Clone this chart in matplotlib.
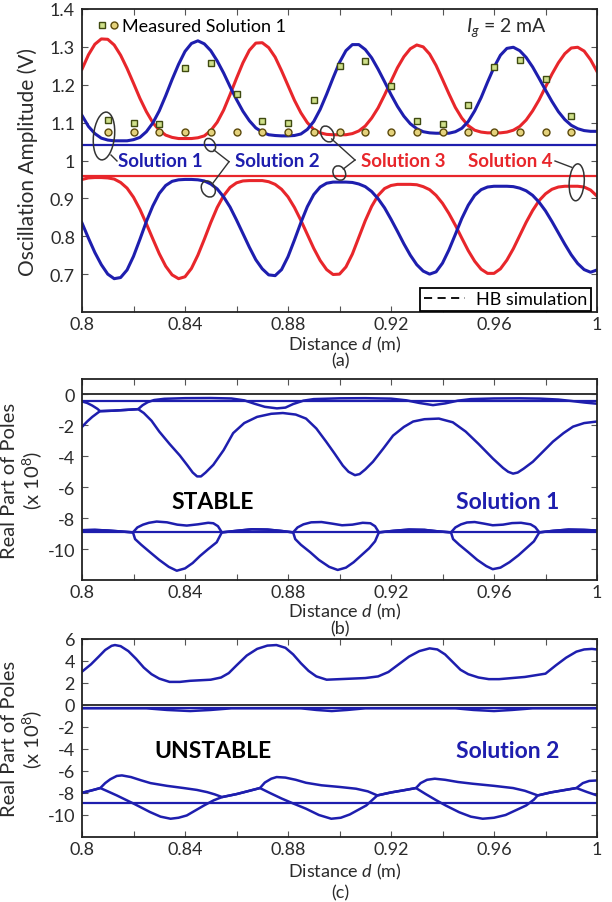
import numpy as np
import matplotlib
matplotlib.use("Agg")
import matplotlib.pyplot as plt
import matplotlib.transforms as mtransforms
from matplotlib.patches import Ellipse
from matplotlib.lines import Line2D
from matplotlib.legend_handler import HandlerTuple
from matplotlib.ticker import FormatStrFormatter

plt.rcParams['font.family'] = ['Lato', 'DejaVu Sans']
plt.rcParams['mathtext.fontset'] = 'custom'
plt.rcParams['mathtext.rm'] = 'Lato'
plt.rcParams['mathtext.it'] = 'Lato:italic'

BLUE = '#1e1eae'
RED = '#e8262b'
INK = '#2b2b2b'

# ---------------- (a) oscillation amplitude vs distance ----------------
dist = np.round(np.linspace(0.8, 1.0, 81), 4)

amp_blue_upper = [
    1.119, 1.090, 1.071, 1.059, 1.054, 1.052, 1.052, 1.052, 1.055, 1.061,
    1.076, 1.099, 1.131, 1.171, 1.214, 1.254, 1.288, 1.309, 1.316, 1.308,
    1.290, 1.263, 1.231, 1.195, 1.161, 1.130, 1.105, 1.086, 1.075, 1.068,
    1.066, 1.065, 1.065, 1.066, 1.070, 1.082, 1.103, 1.135, 1.175, 1.218,
    1.259, 1.290, 1.306, 1.306, 1.293, 1.271, 1.241, 1.208, 1.174, 1.143,
    1.117, 1.097, 1.084, 1.076, 1.073, 1.072, 1.072, 1.072, 1.076, 1.085,
    1.103, 1.131, 1.166, 1.207, 1.246, 1.278, 1.296, 1.299, 1.290, 1.272,
    1.247, 1.217, 1.186, 1.156, 1.129, 1.108, 1.093, 1.084, 1.079, 1.077,
    1.077]
amp_red_upper = [
    1.241, 1.279, 1.307, 1.321, 1.320, 1.305, 1.278, 1.243, 1.204, 1.164,
    1.129, 1.100, 1.080, 1.067, 1.061, 1.058, 1.058, 1.058, 1.060, 1.065,
    1.079, 1.101, 1.133, 1.174, 1.217, 1.258, 1.291, 1.310, 1.311, 1.298,
    1.273, 1.237, 1.198, 1.159, 1.126, 1.100, 1.082, 1.073, 1.069, 1.068,
    1.068, 1.068, 1.071, 1.078, 1.091, 1.112, 1.139, 1.173, 1.209, 1.245,
    1.274, 1.295, 1.305, 1.300, 1.281, 1.251, 1.214, 1.176, 1.140, 1.112,
    1.092, 1.080, 1.075, 1.073, 1.073, 1.073, 1.075, 1.080, 1.090, 1.107,
    1.131, 1.160, 1.194, 1.228, 1.258, 1.282, 1.297, 1.299, 1.289, 1.266,
    1.235]
amp_blue_lower = [
    0.835, 0.795, 0.757, 0.725, 0.700, 0.688, 0.691, 0.711, 0.747, 0.792,
    0.839, 0.880, 0.913, 0.934, 0.945, 0.949, 0.950, 0.950, 0.949, 0.946,
    0.938, 0.925, 0.904, 0.877, 0.843, 0.807, 0.771, 0.738, 0.714, 0.698,
    0.696, 0.712, 0.746, 0.790, 0.836, 0.878, 0.910, 0.930, 0.940, 0.943,
    0.943, 0.943, 0.942, 0.938, 0.931, 0.918, 0.899, 0.875, 0.845, 0.813,
    0.780, 0.750, 0.725, 0.708, 0.700, 0.706, 0.729, 0.764, 0.805, 0.847,
    0.882, 0.908, 0.923, 0.930, 0.932, 0.932, 0.932, 0.931, 0.927, 0.920,
    0.908, 0.890, 0.867, 0.839, 0.809, 0.779, 0.751, 0.728, 0.712, 0.705,
    0.711]
amp_red_lower = [
    0.950, 0.954, 0.955, 0.955, 0.954, 0.951, 0.942, 0.927, 0.903, 0.871,
    0.833, 0.793, 0.754, 0.721, 0.698, 0.688, 0.693, 0.715, 0.750, 0.792,
    0.836, 0.876, 0.907, 0.929, 0.941, 0.946, 0.947, 0.947, 0.947, 0.944,
    0.937, 0.924, 0.904, 0.876, 0.842, 0.805, 0.768, 0.736, 0.712, 0.699,
    0.700, 0.719, 0.753, 0.797, 0.841, 0.879, 0.908, 0.926, 0.934, 0.937,
    0.937, 0.937, 0.936, 0.931, 0.923, 0.908, 0.887, 0.860, 0.829, 0.795,
    0.762, 0.734, 0.713, 0.702, 0.702, 0.714, 0.737, 0.767, 0.802, 0.837,
    0.868, 0.894, 0.912, 0.924, 0.930, 0.932, 0.932, 0.932, 0.930, 0.922,
    0.906]
amp_flat_blue = 1.042
amp_flat_red = 0.960

meas_dist = [0.81, 0.82, 0.83, 0.84, 0.85, 0.86, 0.87, 0.88, 0.89, 0.90,
             0.91, 0.92, 0.93, 0.94, 0.95, 0.96, 0.97, 0.98, 0.99]
meas_square = [1.107, 1.099, 1.096, 1.245, 1.258, 1.175, 1.104, 1.099, 1.159, 1.250,
               1.264, 1.198, 1.104, 1.097, 1.146, 1.248, 1.266, 1.214, 1.117]
meas_circle = [1.075, 1.075, 1.075, 1.075, 1.075, 1.075, 1.075, 1.075, 1.075, 1.075,
               1.075, 1.075, 1.075, 1.075, 1.075, 1.075, 1.075, 1.075, 1.075]

# ---------------- (b) poles, solution 1 ----------------
b_zero = 0.0
b_flat_top = -0.40
b_flat_low = -8.92
b_top_upper_d = [0.800, 0.802, 0.804, 0.806, 0.807, 0.812, 0.817, 0.8218, 0.8235, 0.8255,
                 0.828, 0.832, 0.840, 0.850, 0.858, 0.863, 0.867, 0.871, 0.8757, 0.879,
                 0.882, 0.886, 0.890, 0.900, 0.910, 0.920, 0.926, 0.931, 0.9363, 0.941,
                 0.946, 0.951, 0.960, 0.970, 0.978, 0.985, 0.990, 0.995, 1.000]
b_top_upper_v = [-0.45, -0.55, -0.72, -0.93, -1.08, -1.05, -1.00, -0.95, -0.70, -0.50,
                 -0.36, -0.28, -0.24, -0.23, -0.26, -0.38, -0.60, -0.80, -0.90, -0.85,
                 -0.62, -0.40, -0.30, -0.25, -0.24, -0.27, -0.38, -0.55, -0.69, -0.58,
                 -0.40, -0.30, -0.26, -0.25, -0.27, -0.33, -0.42, -0.52, -0.60]
b_top_lower_d = [0.800, 0.802, 0.804, 0.806, 0.807, 0.812, 0.817, 0.8218, 0.824, 0.827,
                 0.830, 0.834, 0.838, 0.841, 0.843, 0.8447, 0.8462, 0.848, 0.851, 0.855,
                 0.8587, 0.863, 0.868, 0.8735, 0.878, 0.883, 0.887, 0.891, 0.8948, 0.898,
                 0.9013, 0.9035, 0.906, 0.9078, 0.910, 0.913, 0.917, 0.9208, 0.925, 0.9286,
                 0.933, 0.9386, 0.944, 0.949, 0.954, 0.9596, 0.9635, 0.9655, 0.9674, 0.9692,
                 0.9715, 0.9751, 0.979, 0.9829, 0.987, 0.9907, 0.995, 1.000]
b_top_lower_v = [-2.10, -1.75, -1.45, -1.20, -1.08, -1.05, -1.00, -0.95, -1.20, -1.70,
                 -2.40, -3.20, -3.95, -4.60, -5.05, -5.30, -5.30, -5.05, -4.55, -3.60,
                 -2.50, -1.85, -1.45, -1.25, -1.20, -1.30, -1.56, -2.20, -3.05, -3.80,
                 -4.60, -5.00, -5.22, -5.15, -4.85, -4.35, -3.50, -2.66, -2.10, -1.75,
                 -1.60, -1.56, -1.80, -2.40, -3.20, -4.15, -4.75, -5.00, -5.12, -5.05,
                 -4.80, -4.35, -3.70, -3.05, -2.50, -2.08, -1.85, -1.75]
b_low_upper_d = [0.800, 0.805, 0.810, 0.815, 0.8198, 0.8215, 0.8237, 0.826, 0.829, 0.833,
                 0.837, 0.8407, 0.845, 0.849, 0.851, 0.8528, 0.8543, 0.860, 0.866, 0.872,
                 0.877, 0.882, 0.8837, 0.886, 0.889, 0.893, 0.897, 0.901, 0.905, 0.909,
                 0.912, 0.9138, 0.9153, 0.921, 0.927, 0.933, 0.938, 0.9433, 0.945, 0.9472,
                 0.9495, 0.9525, 0.956, 0.9595, 0.9635, 0.967, 0.9705, 0.9742, 0.976, 0.9776,
                 0.983, 0.989, 0.995, 1.000]
b_low_upper_v = [-8.78, -8.76, -8.80, -8.86, -8.92, -8.60, -8.42, -8.30, -8.22, -8.27,
                 -8.42, -8.48, -8.40, -8.30, -8.33, -8.52, -8.92, -8.82, -8.72, -8.74,
                 -8.82, -8.92, -8.60, -8.40, -8.27, -8.25, -8.35, -8.46, -8.42, -8.30,
                 -8.33, -8.52, -8.92, -8.82, -8.74, -8.76, -8.85, -8.92, -8.60, -8.40,
                 -8.28, -8.25, -8.35, -8.46, -8.42, -8.32, -8.30, -8.40, -8.58, -8.92,
                 -8.82, -8.74, -8.76, -8.80]
b_low_lower_d = [0.800, 0.805, 0.810, 0.815, 0.8198, 0.8206, 0.823, 0.8264, 0.830, 0.8337,
                 0.8368, 0.840, 0.843, 0.8458, 0.849, 0.8523, 0.8543, 0.860, 0.866, 0.872,
                 0.877, 0.882, 0.8828, 0.885, 0.8886, 0.892, 0.896, 0.8993, 0.9025, 0.9055,
                 0.9085, 0.9115, 0.9138, 0.9153, 0.921, 0.927, 0.933, 0.938, 0.9433, 0.9441,
                 0.9465, 0.950, 0.9535, 0.957, 0.9595, 0.9625, 0.966, 0.9695, 0.9725, 0.9755,
                 0.9776, 0.983, 0.989, 0.995, 1.000]
b_low_lower_v = [-8.78, -8.76, -8.80, -8.86, -8.92, -9.35, -9.72, -10.20, -10.70, -11.15,
                 -11.40, -11.25, -10.90, -10.45, -10.00, -9.56, -8.92, -8.82, -8.72, -8.74,
                 -8.82, -8.92, -9.35, -9.72, -10.20, -10.70, -11.15, -11.35, -11.20, -10.85,
                 -10.40, -9.95, -9.50, -8.92, -8.82, -8.74, -8.76, -8.85, -8.92, -9.35,
                 -9.72, -10.20, -10.70, -11.10, -11.30, -11.20, -10.85, -10.40, -9.95, -9.50,
                 -8.92, -8.82, -8.74, -8.76, -8.80]

# ---------------- (c) poles, solution 2 ----------------
c_zero = 0.0
c_flat_top = -0.30
c_flat_low = -8.90
c_top_d = [0.800, 0.8035, 0.8065, 0.809, 0.8115, 0.8128, 0.815, 0.818, 0.821, 0.824,
           0.827, 0.830, 0.834, 0.838, 0.842, 0.846, 0.850, 0.854, 0.857, 0.860,
           0.864, 0.868, 0.872, 0.8755, 0.879, 0.882, 0.885, 0.888, 0.891, 0.895,
           0.900, 0.905, 0.910, 0.915, 0.919, 0.923, 0.927, 0.931, 0.935, 0.938,
           0.941, 0.944, 0.947, 0.950, 0.954, 0.958, 0.962, 0.967, 0.972, 0.976,
           0.980, 0.984, 0.988, 0.992, 0.995, 0.998, 1.000]
c_top_v = [3.03, 3.70, 4.40, 5.00, 5.38, 5.45, 5.35, 4.90, 4.20, 3.40,
           2.80, 2.40, 2.10, 2.10, 2.20, 2.25, 2.30, 2.50, 2.90, 3.60,
           4.50, 5.10, 5.40, 5.45, 5.20, 4.60, 3.80, 3.10, 2.60, 2.30,
           2.35, 2.40, 2.45, 2.60, 3.00, 3.70, 4.40, 4.90, 5.15, 5.05,
           4.60, 3.90, 3.20, 2.80, 2.50, 2.35, 2.35, 2.45, 2.55, 2.70,
           2.85, 3.60, 4.30, 4.85, 5.05, 5.10, 5.05]
c_near0_d = [0.800, 0.825, 0.833, 0.842, 0.850, 0.858, 0.885, 0.891, 0.897, 0.903,
             0.910, 0.945, 0.952, 0.960, 0.967, 0.975, 1.000]
c_near0_v = [-0.30, -0.30, -0.45, -0.55, -0.45, -0.30, -0.30, -0.45, -0.55, -0.45,
             -0.30, -0.30, -0.45, -0.55, -0.45, -0.30, -0.30]
c_low_upper_d = [0.800, 0.8035, 0.8071, 0.809, 0.811, 0.8135, 0.8155, 0.819, 0.823, 0.8266,
                 0.833, 0.8395, 0.8446, 0.8486, 0.8515, 0.8544, 0.860, 0.865, 0.8691, 0.871,
                 0.8735, 0.8756, 0.879, 0.883, 0.887, 0.893, 0.900, 0.9064, 0.911, 0.9147,
                 0.920, 0.925, 0.9297, 0.9315, 0.934, 0.937, 0.941, 0.946, 0.9518, 0.960,
                 0.9674, 0.972, 0.977, 0.982, 0.987, 0.992, 0.9945, 0.997, 1.000]
c_low_upper_v = [-7.98, -7.78, -7.55, -7.10, -6.75, -6.45, -6.40, -6.55, -6.85, -7.10,
                 -7.35, -7.55, -7.72, -7.92, -8.12, -8.37, -8.10, -7.80, -7.55, -7.05,
                 -6.70, -6.55, -6.60, -6.80, -7.07, -7.30, -7.45, -7.61, -7.85, -8.22,
                 -7.95, -7.75, -7.55, -7.10, -6.80, -6.70, -6.80, -7.00, -7.16, -7.35,
                 -7.55, -7.80, -8.22, -7.95, -7.75, -7.55, -7.10, -6.90, -6.86]
c_low_lower_d = [0.800, 0.8035, 0.8071, 0.810, 0.8135, 0.8201, 0.8264, 0.8305, 0.8344, 0.8375,
                 0.8407, 0.8474, 0.8511, 0.8544, 0.860, 0.865, 0.8691, 0.873, 0.8775, 0.882,
                 0.887, 0.892, 0.8968, 0.9005, 0.904, 0.9104, 0.9147, 0.920, 0.925, 0.9297,
                 0.9335, 0.9375, 0.9412, 0.9465, 0.951, 0.9556, 0.960, 0.9645, 0.9725, 0.9755,
                 0.977, 0.982, 0.987, 0.992, 0.996, 1.000]
c_low_lower_v = [-7.98, -7.78, -7.55, -7.85, -8.22, -8.97, -9.73, -10.15, -10.34, -10.25,
                 -10.04, -9.13, -8.67, -8.37, -8.10, -7.80, -7.55, -8.00, -8.50, -8.95,
                 -9.43, -10.00, -10.34, -10.25, -9.95, -9.13, -8.22, -7.95, -7.75, -7.55,
                 -8.10, -8.65, -9.13, -9.75, -10.15, -10.34, -10.25, -10.00, -9.13, -8.60,
                 -8.22, -7.95, -7.75, -7.55, -7.90, -8.22]

x_major = [0.8, 0.84, 0.88, 0.92, 0.96, 1.0]
x_minor = [0.82, 0.86, 0.90, 0.94, 0.98]

# ---------------- figure ----------------
W, H = 612, 903
fig = plt.figure(figsize=(W / 100, H / 100), dpi=100)


def add_axes(top_px, bottom_px):
    return fig.add_axes([82 / W, 1 - bottom_px / H, 515 / W, (bottom_px - top_px) / H])


ax_a = add_axes(10, 313)
ax_b = add_axes(380, 581)
ax_c = add_axes(640, 838)


def style(ax, ylim, yticks):
    ax.set_xlim(0.8, 1.0)
    ax.set_ylim(*ylim)
    ax.set_xticks(x_major)
    ax.set_xticks(x_minor, minor=True)
    ax.set_yticks(yticks)
    ax.xaxis.set_major_formatter(FormatStrFormatter('%g'))
    ax.yaxis.set_major_formatter(FormatStrFormatter('%g'))
    ax.tick_params(which='both', direction='in', top=True, right=True,
                   length=4, width=0.8, color='#555555')
    ax.tick_params(axis='both', which='major', labelsize=13, labelcolor=INK)
    ax.tick_params(axis='x', pad=3)
    ax.tick_params(axis='y', pad=5)
    for s in ax.spines.values():
        s.set_linewidth(1.3)
        s.set_color('#222222')


style(ax_a, (0.6, 1.4), [0.7, 0.8, 0.9, 1.0, 1.1, 1.2, 1.3, 1.4])
style(ax_b, (-12, 1), [-10, -8, -6, -4, -2, 0])
style(ax_c, (-12, 6), [-10, -8, -6, -4, -2, 0, 2, 4, 6])

# ---- panel (a) ----
ax_a.axhline(amp_flat_blue, color=BLUE, lw=1.6)
ax_a.axhline(amp_flat_red, color=RED, lw=1.6)
ax_a.plot(dist, amp_red_upper, color=RED, lw=2.2)
ax_a.plot(dist, amp_blue_upper, color=BLUE, lw=2.2)
ax_a.plot(dist, amp_red_lower, color=RED, lw=2.2)
ax_a.plot(dist, amp_blue_lower, color=BLUE, lw=2.2)
sq, = ax_a.plot(meas_dist, meas_square, ls='none', marker='s', ms=5,
                mfc='#cfe08a', mec='#3f4a10', mew=1.0, zorder=5)
ci, = ax_a.plot(meas_dist, meas_circle, ls='none', marker='o', ms=5,
                mfc='#e4d27c', mec='#5c4a0c', mew=1.0, zorder=5)

leg1 = ax_a.legend([(sq, ci)], ['Measured Solution 1'], loc='center left',
                   bbox_to_anchor=(0.0272, 0.944), frameon=False, fontsize=13,
                   handlelength=1.3, handletextpad=0.15, borderpad=0, borderaxespad=0,
                   handler_map={tuple: HandlerTuple(ndivide=None, pad=0)})
ax_a.add_artist(leg1)
hb = Line2D([], [], color='black', lw=1.3, dashes=(4.5, 3))
leg2 = ax_a.legend([hb], ['HB simulation'], loc='lower right',
                   bbox_to_anchor=(0.988, 0.004), fontsize=13, frameon=True,
                   fancybox=False, edgecolor='black', framealpha=1,
                   handlelength=2.3, handletextpad=0.6, borderpad=0.2,
                   borderaxespad=0)
leg2.get_frame().set_linewidth(1.3)

ax_a.text(0.9491, 1.353, r'$I_g$ = 2 mA', fontsize=14, va='center', ha='left', color=INK)

for x0, label, col in [(0.8140, 'Solution 1', BLUE), (0.8594, 'Solution 2', BLUE),
                       (0.9083, 'Solution 3', RED), (0.9499, 'Solution 4', RED)]:
    ax_a.text(x0, 0.9987, label, color=col, fontsize=13.5, fontweight='bold',
              va='center', ha='left')


def ring(ax, d, v, w_px, h_px, angle):
    tr = fig.dpi_scale_trans + mtransforms.ScaledTranslation(d, v, ax.transData)
    ax.add_patch(Ellipse((0, 0), w_px / 100, h_px / 100, angle=angle, transform=tr,
                         fill=False, ec='#333333', lw=1.1, zorder=6))


def leader(ax, d0, v0, d1, v1):
    ax.plot([d0, d1], [v0, v1], color='#333333', lw=1.0, zorder=6)


ring(ax_a, 0.80854, 1.0647, 21, 48, -6)
leader(ax_a, 0.81126, 1.0145, 0.81359, 0.9987)
ring(ax_a, 0.84971, 1.0409, 10, 14, 30)
ring(ax_a, 0.84905, 0.9248, 13, 17, 30)
leader(ax_a, 0.85126, 1.0277, 0.85709, 0.9968)
leader(ax_a, 0.85087, 0.9406, 0.85709, 0.9968)
ring(ax_a, 0.89526, 1.0700, 12, 17, 30)
ring(ax_a, 0.89992, 0.9670, 12, 15, 30)
leader(ax_a, 0.89697, 1.0568, 0.90602, 1.0013)
leader(ax_a, 0.90147, 0.9776, 0.90602, 1.0013)
ring(ax_a, 0.99212, 0.9424, 15, 37, -4)
leader(ax_a, 0.98369, 0.9987, 0.99017, 0.9820)

ax_a.set_ylabel('Oscillation Amplitude (V)', fontsize=15, color=INK)
ax_a.yaxis.label.set_va('center')
ax_a.yaxis.set_label_coords(-0.105, 0.5)

# ---- panel (b) ----
ax_b.axhline(b_zero, color='#333333', lw=1.4)
ax_b.axhline(b_flat_top, color=BLUE, lw=1.6)
ax_b.axhline(b_flat_low, color=BLUE, lw=1.6)
for d, v in [(b_top_upper_d, b_top_upper_v), (b_top_lower_d, b_top_lower_v),
             (b_low_upper_d, b_low_upper_v), (b_low_lower_d, b_low_lower_v)]:
    ax_b.plot(d, v, color=BLUE, lw=1.8)
ax_b.text(0.8507, -6.95, 'STABLE', fontsize=16.5, fontweight='bold', color='black',
          ha='center', va='center')
ax_b.text(0.9652, -6.95, 'Solution 1', fontsize=16.5, fontweight='bold', color=BLUE,
          ha='center', va='center')

# ---- panel (c) ----
ax_c.axhline(c_zero, color='#333333', lw=1.4)
ax_c.axhline(c_flat_top, color=BLUE, lw=1.6)
ax_c.axhline(c_flat_low, color=BLUE, lw=1.6)
for d, v in [(c_top_d, c_top_v), (c_near0_d, c_near0_v),
             (c_low_upper_d, c_low_upper_v), (c_low_lower_d, c_low_lower_v)]:
    ax_c.plot(d, v, color=BLUE, lw=1.8)
ax_c.text(0.8507, -4.17, 'UNSTABLE', fontsize=16.5, fontweight='bold', color='black',
          ha='center', va='center')
ax_c.text(0.9652, -4.17, 'Solution 2', fontsize=16.5, fontweight='bold', color=BLUE,
          ha='center', va='center')

for ax in (ax_b, ax_c):
    ax.set_ylabel('Real Part of Poles\n(x 10$^8$)', fontsize=14.5, color=INK,
                  linespacing=1.1)
    ax.yaxis.label.set_va('center')
    ax.yaxis.set_label_coords(-0.115, 0.5)

for ax, yl in [(ax_a, -0.104), (ax_b, -0.154), (ax_c, -0.172)]:
    ax.set_xlabel('Distance $d$ (m)', fontsize=13, color=INK)
    ax.xaxis.label.set_va('center')
    ax.xaxis.set_label_coords(0.51, yl)

fig.text(340 / W, 1 - 361 / H, '(a)', fontsize=13, ha='center', va='center', color=INK)
fig.text(340 / W, 1 - 629 / H, '(b)', fontsize=13, ha='center', va='center', color=INK)
fig.text(340 / W, 1 - 893 / H, '(c)', fontsize=13, ha='center', va='center', color=INK)

fig.savefig('out.png', dpi=100)
